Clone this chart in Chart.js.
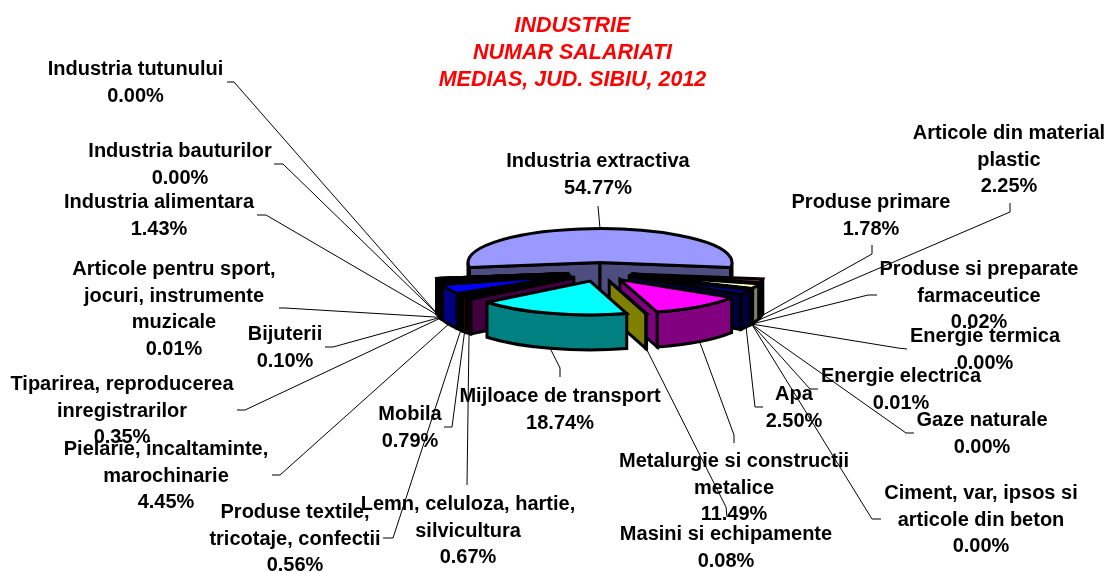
<!DOCTYPE html>
<html>
<head>
<meta charset="utf-8">
<title>Industrie - numar salariati</title>
<script src="https://cdn.jsdelivr.net/npm/chart.js@4"></script>
<style>
  html, body { margin: 0; padding: 0; background: #fff; }
  #chart { display: block; }
</style>
</head>
<body>
<canvas id="chart" width="1108" height="572"></canvas>
<script>
const titleLines = ["INDUSTRIE", "NUMAR SALARIATI", "MEDIAS, JUD. SIBIU, 2012"];

const categories = [
  "Industria extractiva",
  "Produse primare",
  "Articole din material\nplastic",
  "Produse si preparate\nfarmaceutice",
  "Energie termica",
  "Energie electrica",
  "Gaze naturale",
  "Ciment, var, ipsos si\narticole din beton",
  "Apa",
  "Metalurgie si constructii\nmetalice",
  "Masini si echipamente",
  "Mijloace de transport",
  "Lemn, celuloza, hartie,\nsilvicultura",
  "Mobila",
  "Produse textile,\ntricotaje, confectii",
  "Pielarie, incaltaminte,\nmarochinarie",
  "Tiparirea, reproducerea\ninregistrarilor",
  "Bijuterii",
  "Articole pentru sport,\njocuri, instrumente\nmuzicale",
  "Industria alimentara",
  "Industria bauturilor",
  "Industria tutunului",
];

const percents = [54.77, 1.78, 2.25, 0.02, 0.0, 0.01, 0.0, 0.0, 2.5, 11.49, 0.08, 18.74, 0.67, 0.79, 0.56, 4.45, 0.35, 0.1, 0.01, 1.43, 0.0, 0.0];

const sliceColors = [
  "#9999ff", "#993366", "#ffffcc", "#ccffff", "#660066", "#ff8080", "#0066cc", "#ccccff",
  "#000080", "#ff00ff", "#ffff00", "#00ffff", "#800080", "#800000", "#008080", "#0000ff",
  "#00ccff", "#ccffff", "#ccffcc", "#ffff99", "#99ccff", "#ff99cc",
];

// label placement: centre x, first baseline
const labelAnchors = [
  [598, 167], [871, 208], [1009, 139], [979, 275], [985, 342], [901, 382], [982, 426], [981, 499],
  [794, 400], [734, 467], [726, 540], [560, 402], [468, 510], [410, 420], [295, 518], [166, 455],
  [122, 390], [285, 340], [174, 275], [159, 208], [180, 157], [135.5, 75],
];

// leader lines: points going out from the slice towards the label
const leaderPaths = [
  [[598, 206]],
  [[872, 254], [872, 245]],
  [[1010, 212], [1010, 203]],
  [[868, 295], [877, 295]],
  [[898, 348], [907, 349]],
  [[810, 389], [818, 389]],
  [[906, 433], [914, 433]],
  [[872, 519], [881, 519]],
  [[755, 407], [763, 407]],
  [[734, 435], [734, 443]],
  [[726, 507], [727, 517]],
  [[560, 368], [560, 377]],
  [[467, 485]],
  [[452, 427], [444, 427]],
  [[393, 538], [383, 538]],
  [[280, 475], [272, 475]],
  [[245, 410], [237, 410]],
  [[333, 347], [325, 347]],
  [[285, 308], [279, 308]],
  [[266, 215], [257, 215]],
  [[283, 164], [274, 164]],
  [[234, 82], [227, 82]],
];

const squash = 0.256;
const depth = 35;
const explode = 33;
const explodeFlat = 0.29;
const labelFont = 'bold 20px "Liberation Sans", Arial, sans-serif';
const labelLineHeight = 26.5;

const darken = (hex) => {
  const n = parseInt(hex.slice(1), 16);
  const half = (v) => Math.round(v / 2);
  return `rgb(${half(n >> 16)}, ${half((n >> 8) & 255)}, ${half(n & 255)})`;
};

const pie3d = {
  id: "pie3d",
  beforeDatasetsDraw(chart) {
    const ctx = chart.ctx;
    const arcs = chart.getDatasetMeta(0).data;

    const geometry = arcs.map((arc) => {
      const mid = (arc.startAngle + arc.endAngle) / 2;
      return {
        a0: arc.startAngle,
        a1: arc.endAngle,
        mid,
        r: arc.outerRadius,
        x: arc.x + Math.cos(mid) * explode,
        y: arc.y + Math.sin(mid) * explode * explodeFlat,
      };
    });

    const rim = (g, a, down) => [g.x + Math.cos(a) * g.r, g.y + Math.sin(a) * g.r * squash + (down ? depth : 0)];

    const outline = (fill) => {
      ctx.fillStyle = fill;
      ctx.fill();
      ctx.stroke();
    };

    const radialFace = (g, a, fill) => {
      const p = rim(g, a, false);
      const q = rim(g, a, true);
      ctx.beginPath();
      ctx.moveTo(g.x, g.y);
      ctx.lineTo(p[0], p[1]);
      ctx.lineTo(q[0], q[1]);
      ctx.lineTo(g.x, g.y + depth);
      ctx.closePath();
      outline(fill);
    };

    const drawSlice = (i) => {
      const g = geometry[i];
      const wall = darken(sliceColors[i]);

      if (Math.cos(g.a0) < 0) radialFace(g, g.a0, wall);
      if (Math.cos(g.a1) > 0) radialFace(g, g.a1, wall);

      // outer wall, only the part turned to the viewer
      for (let n = -1; n <= 1; n++) {
        const from = Math.max(g.a0, n * 2 * Math.PI);
        const to = Math.min(g.a1, n * 2 * Math.PI + Math.PI);
        if (to < from) continue;
        ctx.beginPath();
        ctx.ellipse(g.x, g.y, g.r, g.r * squash, 0, from, to);
        ctx.ellipse(g.x, g.y + depth, g.r, g.r * squash, 0, to, from, true);
        ctx.closePath();
        outline(wall);
      }

      ctx.beginPath();
      ctx.moveTo(g.x, g.y);
      ctx.ellipse(g.x, g.y, g.r, g.r * squash, 0, g.a0, g.a1);
      ctx.closePath();
      outline(sliceColors[i]);
    };

    ctx.save();
    ctx.strokeStyle = "#000";
    ctx.lineWidth = 3;
    ctx.lineJoin = "miter";
    ctx.miterLimit = 3;

    // back slice first, then the right side, then the left side towards the front
    const right = [];
    const left = [];
    geometry.forEach((g, i) => {
      if (i === 0) return;
      (Math.cos(g.mid) >= 0 || g.mid < Math.PI / 2 ? right : left).push(i);
    });
    drawSlice(0);
    right.forEach(drawSlice);
    left.reverse().forEach(drawSlice);

    // leader lines
    ctx.lineWidth = 1;
    geometry.forEach((g, i) => {
      const start = rim(g, g.mid, Math.sin(g.mid) > 0);
      ctx.beginPath();
      ctx.moveTo(start[0], start[1]);
      leaderPaths[i].forEach((p) => ctx.lineTo(p[0], p[1]));
      ctx.stroke();
    });

    // labels
    ctx.fillStyle = "#000";
    ctx.font = labelFont;
    ctx.textAlign = "center";
    ctx.textBaseline = "alphabetic";
    categories.forEach((name, i) => {
      const lines = name.split("\n").concat(percents[i].toFixed(2) + "%");
      lines.forEach((line, l) => {
        ctx.fillText(line, labelAnchors[i][0], labelAnchors[i][1] + l * labelLineHeight);
      });
    });

    ctx.fillStyle = "#ff0000";
    ctx.font = 'italic bold 21.5px "Liberation Sans", Arial, sans-serif';
    titleLines.forEach((line, l) => ctx.fillText(line, 572.5, 32 + l * 27));

    ctx.restore();
    return false;
  },
};

new Chart(document.getElementById("chart"), {
  type: "pie",
  data: {
    labels: categories,
    datasets: [{ data: percents, backgroundColor: sliceColors, borderColor: "#000", borderWidth: 2 }],
  },
  options: {
    responsive: false,
    animation: false,
    events: [],
    rotation: -(percents[0] * 3.6) / 2,
    radius: 132,
    layout: { padding: { left: 92, bottom: 28 } },
    plugins: {
      legend: { display: false },
      tooltip: { enabled: false },
    },
  },
  plugins: [pie3d],
});
</script>
</body>
</html>
